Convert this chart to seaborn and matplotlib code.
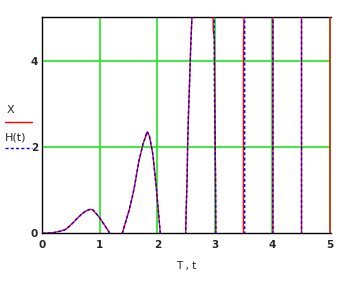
import numpy as np
import pandas as pd
import matplotlib
matplotlib.use("Agg")
import matplotlib.pyplot as plt
from matplotlib.lines import Line2D
import seaborn as sns

# ---- data ----
t_X = [0.00, 0.10, 0.20, 0.25, 0.32, 0.40, 0.46, 0.54, 0.61, 0.69, 0.75, 0.82, 0.86,
       0.89, 0.94, 1.00, 1.05, 1.10, 1.14, 1.17, 1.27, 1.39, 1.45, 1.51, 1.56, 1.60,
       1.64, 1.68, 1.72, 1.75, 1.79, 1.82, 1.86, 1.92, 1.98, 2.02, 2.05, 2.25, 2.49,
       2.50, 2.517, 2.525, 2.54, 2.56, 2.58, 2.60, 2.63, 2.78, 2.965, 2.97, 2.99,
       3.01, 3.02, 3.25, 3.495, 3.495, 3.517, 3.53, 3.75, 4.008, 4.008, 4.25, 4.505,
       4.505, 4.75, 5.0, 5.0]
X = [0.00, 0.005, 0.015, 0.03, 0.05, 0.085, 0.15, 0.25, 0.35, 0.45, 0.51, 0.55, 0.55,
     0.52, 0.45, 0.35, 0.25, 0.15, 0.07, 0.00, -0.30, 0.00, 0.27, 0.54, 0.82, 1.07,
     1.38, 1.68, 1.90, 2.07, 2.22, 2.34, 2.26, 1.84, 1.07, 0.46, 0.00, -2.0, -0.1,
     0.53, 1.30, 2.00, 2.76, 3.52, 4.37, 5.00, 6.5, 40.0, 6.5, 4.70, 4.50,
     1.30, -1.0, -60.0, -1.0, 4.30, 6.0, 9.0, 150.0, 6.0, -1.0, -300.0, -1.0,
     6.0, 600.0, 6.0, -1.0]

t_H = [0.00, 0.10, 0.20, 0.25, 0.32, 0.40, 0.46, 0.54, 0.61, 0.69, 0.75, 0.82, 0.86,
       0.89, 0.94, 1.00, 1.05, 1.10, 1.14, 1.17, 1.27, 1.39, 1.45, 1.51, 1.56, 1.60,
       1.64, 1.68, 1.72, 1.75, 1.79, 1.82, 1.86, 1.92, 1.98, 2.02, 2.05, 2.25, 2.49,
       2.50, 2.517, 2.525, 2.54, 2.56, 2.58, 2.60, 2.63, 2.78, 2.985, 2.99, 3.01,
       3.01, 3.02, 3.25, 3.517, 3.517, 3.53, 3.75, 4.008, 4.008, 4.25, 4.505,
       4.505, 4.75, 5.03, 5.03]
H = [0.00, 0.005, 0.015, 0.03, 0.05, 0.085, 0.15, 0.25, 0.35, 0.45, 0.51, 0.55, 0.56,
     0.53, 0.45, 0.35, 0.25, 0.15, 0.07, 0.00, -0.30, 0.00, 0.27, 0.54, 0.82, 1.07,
     1.38, 1.68, 1.90, 2.07, 2.22, 2.36, 2.26, 1.84, 1.07, 0.46, 0.00, -2.0, -0.1,
     0.53, 1.30, 2.00, 2.76, 3.52, 4.37, 5.00, 6.5, 40.0, 6.5, 3.40, 1.38,
     1.38, -1.0, -60.0, -1.0, 6.0, 9.0, 150.0, 6.0, -1.0, -300.0, -1.0,
     6.0, 600.0, 6.0, -1.0]

x_ticks = [0, 1, 2, 3, 4, 5]
y_ticks = [0, 2, 4]
x_label = "T , t"
legend_labels = ["X", "H(t)"]

dfX = pd.DataFrame({"t": t_X, "v": X})
dfH = pd.DataFrame({"t": t_H, "v": H})

sns.set_theme(style="white")
plt.rcParams['font.family'] = ['DejaVu Sans']

fig = plt.figure(figsize=(3.47, 2.81), dpi=100)
ax = fig.add_axes([0.122, 0.170, 0.831, 0.768])

grid_c = '#1ee61e'
for xv in x_ticks[1:]:
    ax.axvline(xv, color=grid_c, lw=1.2, zorder=1)
for yv in y_ticks[1:]:
    ax.axhline(yv, color=grid_c, lw=1.2, zorder=1)

sns.lineplot(data=dfX, x="t", y="v", estimator=None, sort=False, color='#ff0000',
             lw=1.0, ax=ax, zorder=3)
sns.lineplot(data=dfH, x="t", y="v", estimator=None, sort=False, color='#0000ff',
             lw=1.0, ax=ax, zorder=4)
ax.lines[-1].set_dashes([2.2, 1.6])

ax.set_xlim(0, 5.012)
ax.set_ylim(0, 5)
ax.set_xticks(x_ticks)
ax.set_yticks(y_ticks)
ax.set_xticklabels([str(v) for v in x_ticks], fontsize=7.5, fontweight='bold')
ax.set_yticklabels([str(v) for v in y_ticks], fontsize=7.5, fontweight='bold')
ax.tick_params(axis='both', length=0)
ax.tick_params(axis='x', pad=5)
ax.tick_params(axis='y', pad=3)
ax.set_xlabel(x_label, fontsize=7.5, labelpad=8)
ax.set_ylabel("")
for s in ['left', 'top', 'bottom']:
    ax.spines[s].set_color('black')
    ax.spines[s].set_linewidth(1.0)
ax.spines['right'].set_visible(False)

# legend-like y labels on the left (Mathcad style)
W, Hh = 347.0, 281.0
fig.text(7 / W, 1 - 110 / Hh, legend_labels[0], fontsize=8, ha='left', va='center')
fig.add_artist(Line2D([5 / W, 32 / W], [1 - 122 / Hh, 1 - 122 / Hh], color='#ff0000', lw=1.0))
fig.text(5 / W, 1 - 137 / Hh, legend_labels[1], fontsize=8, ha='left', va='center')
l2 = Line2D([5 / W, 32 / W], [1 - 147.5 / Hh, 1 - 147.5 / Hh], color='#0000ff', lw=1.0)
l2.set_dashes([2.2, 1.6])
fig.add_artist(l2)

fig.savefig("out.png", dpi=100)
